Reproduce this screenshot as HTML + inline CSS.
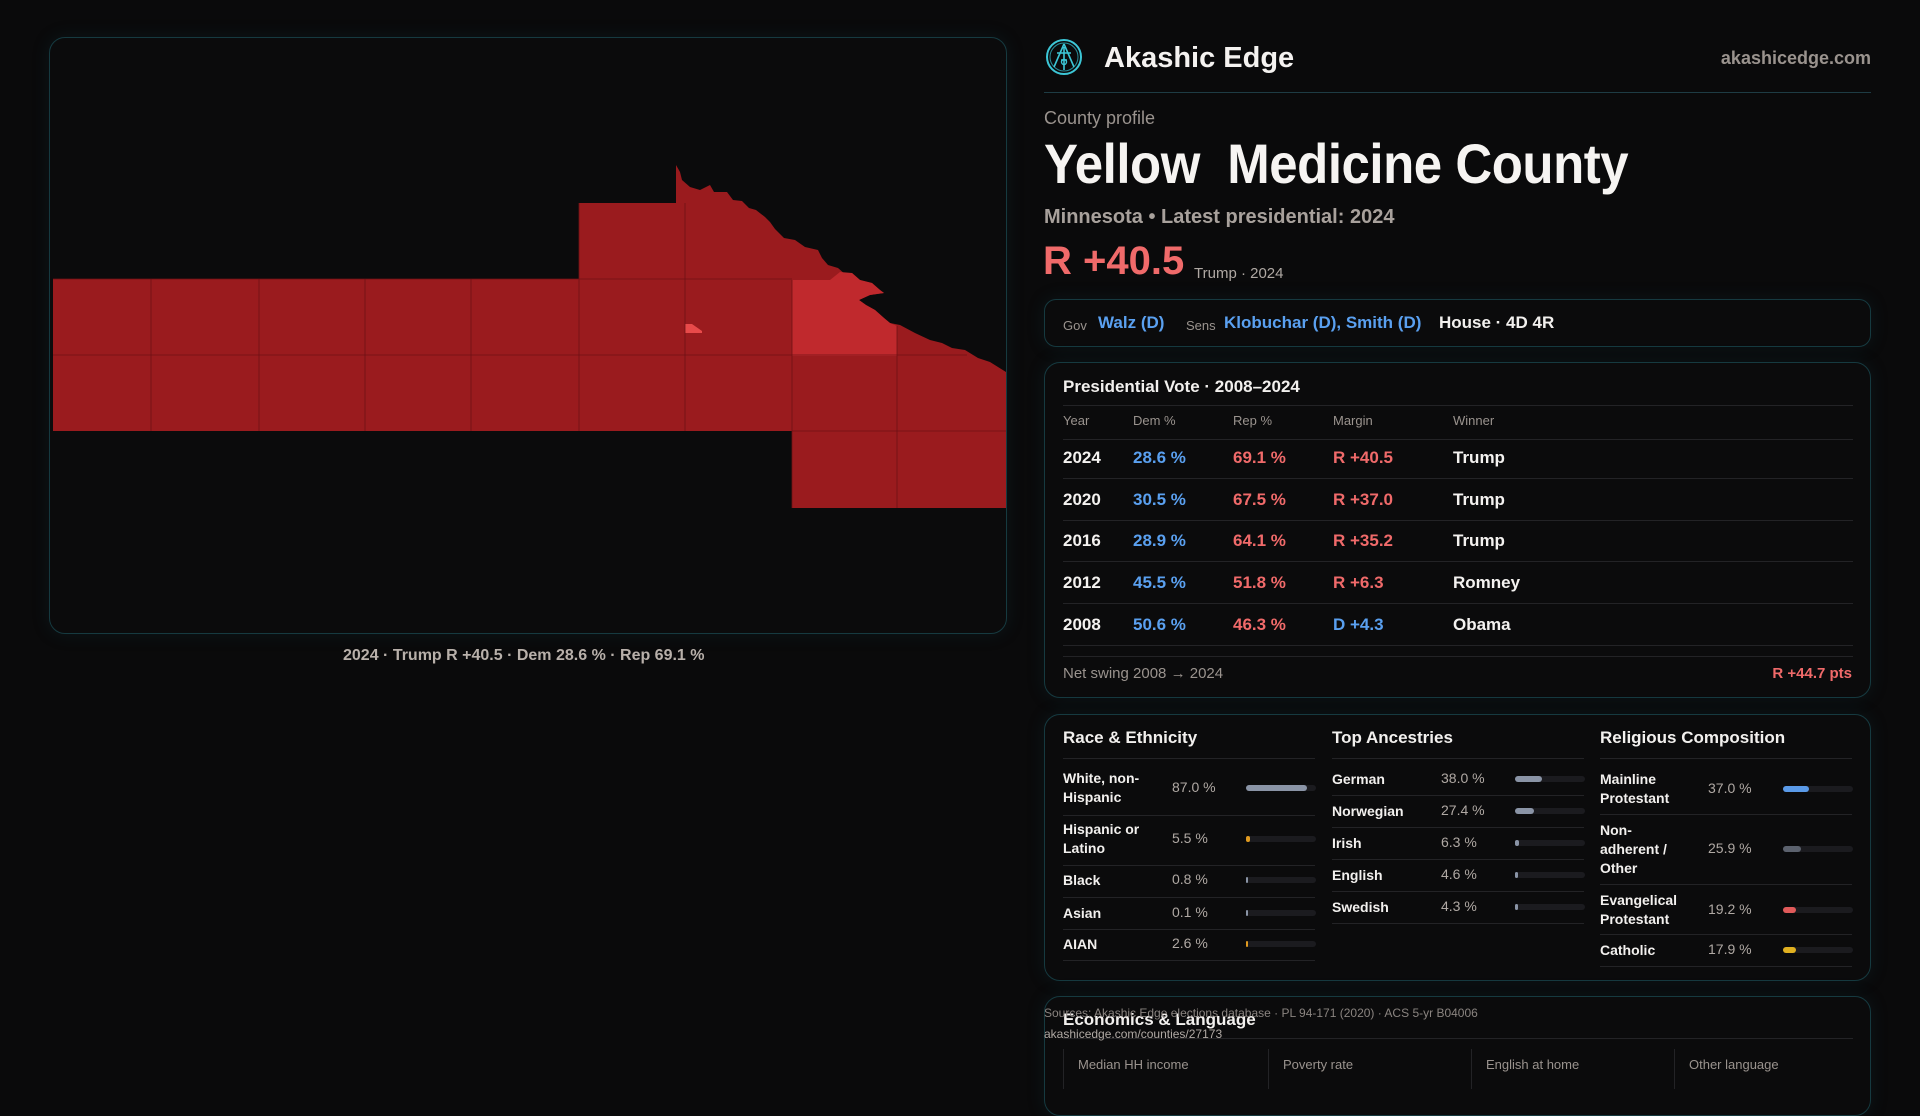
<!DOCTYPE html>
<html><head><meta charset="utf-8">
<style>
*{box-sizing:border-box;margin:0;padding:0}
html,body{width:1920px;height:1080px;overflow:hidden;background:#0a0a0b;font-family:"Liberation Sans",sans-serif;color:#f2f0ee}
.abs{position:absolute;white-space:nowrap}
.panel{position:absolute;border:1.5px solid #163a40;border-radius:16px;background:#0b0b0c;box-shadow:0 0 18px rgba(20,80,90,0.18)}
.gray{color:#9a938e}
.blue{color:#5aa0f0}
.red{color:#f06a6a}
.hl{position:absolute;height:1px;background:#232326}
</style></head>
<body>
<div class="panel" style="left:49px;top:37px;width:958px;height:597px;"></div>
<svg class="abs" style="left:0;top:0" width="1020" height="640" viewBox="0 0 1020 640">
  <g id="mapg"></g>
</svg>
<div class="abs" style="left:343px;top:647px;font-size:16px;font-weight:bold;color:#b8b0aa;">2024 · Trump R +40.5 · Dem 28.6 % · Rep 69.1 %</div>

<svg class="abs" style="left:1044px;top:37px" width="40" height="40" viewBox="0 0 40 40">
  <circle cx="20" cy="20" r="17" fill="none" stroke="#3cc6d6" stroke-width="2"/>
  <circle cx="20" cy="20" r="14" fill="none" stroke="#2a8e9a" stroke-width="1"/>
  <path d="M20 7 L10 30 M20 7 L30 30 M13 16 L27 16 M20 10 L20 33 M17 23 L23 23" stroke="#3cc6d6" stroke-width="1.6" fill="none"/>
  <circle cx="20" cy="25" r="2.5" fill="none" stroke="#3cc6d6" stroke-width="1.4"/>
</svg>
<div class="abs" style="left:1104px;top:42px;font-size:29px;font-weight:bold;color:#f4f2f0;">Akashic Edge</div>
<div class="abs" style="right:49px;top:48px;font-size:18px;font-weight:bold;color:#9a938e;">akashicedge.com</div>
<div class="abs" style="left:1044px;top:92px;width:827px;height:1px;background:#1e3c44;"></div>
<div class="abs gray" style="left:1044px;top:108px;font-size:18px;">County profile</div>
<div class="abs" style="left:1044px;top:131px;font-size:56px;font-weight:bold;color:#f6f4f2;transform:scaleX(0.91);transform-origin:left top;letter-spacing:-0.5px;">Yellow&nbsp; Medicine County</div>
<div class="abs" style="left:1044px;top:206px;font-size:20px;font-weight:bold;color:#a8a19c;">Minnesota • Latest presidential: 2024</div>
<div class="abs red" style="left:1043px;top:239px;font-size:40px;font-weight:bold;">R +40.5</div>
<div class="abs" style="left:1194px;top:265px;font-size:15px;color:#b0a9a4;">Trump · 2024</div>

<div class="panel" style="left:1044px;top:299px;width:827px;height:48px;border-radius:12px;"></div>
<div class="abs gray" style="left:1063px;top:318px;font-size:13px;">Gov</div>
<div class="abs blue" style="left:1098px;top:313px;font-size:17px;font-weight:bold;">Walz (D)</div>
<div class="abs gray" style="left:1186px;top:318px;font-size:13px;">Sens</div>
<div class="abs blue" style="left:1224px;top:313px;font-size:17px;font-weight:bold;">Klobuchar (D), Smith (D)</div>
<div class="abs" style="left:1439px;top:313px;font-size:17px;font-weight:bold;">House · 4D 4R</div>

<div class="panel" style="left:1044px;top:362px;width:827px;height:336px;"></div>
<div class="abs" style="left:1063px;top:377px;font-size:17px;font-weight:bold;">Presidential Vote · 2008–2024</div>
<div class="hl" style="left:1063px;top:405px;width:790px;"></div>
<div class="hl" style="left:1063px;top:656px;width:790px;"></div>
<div class="abs gray" style="left:1063px;top:665px;font-size:15px;">Net swing 2008 → 2024</div>
<div class="abs red" style="right:68px;top:665px;font-size:15px;font-weight:bold;">R +44.7 pts</div>

<div class="panel" style="left:1044px;top:714px;width:827px;height:267px;"></div>

<div class="panel" style="left:1044px;top:996px;width:827px;height:120px;"></div>
<div class="abs" style="left:1063px;top:1010px;font-size:17px;font-weight:bold;">Economics &amp; Language</div>
<div class="hl" style="left:1063px;top:1038px;width:790px;"></div>
<div class="abs" style="left:1044px;top:1006px;font-size:12px;color:#8a8480;">Sources: Akashic Edge elections database · PL 94-171 (2020) · ACS 5-yr B04006</div>
<div class="abs" style="left:1044px;top:1027px;font-size:12px;color:#b0a9a4;">akashicedge.com/counties/27173</div>

<script>
// Presidential table data
const years = ['2024','2020','2016','2012','2008'];
const demPct = [28.6, 30.5, 28.9, 45.5, 50.6];
const repPct = [69.1, 67.5, 64.1, 51.8, 46.3];
const winners = ['Trump','Trump','Trump','Romney','Obama'];
// Demographics data
const raceLabels = ['White, non-\nHispanic','Hispanic or\nLatino','Black','Asian','AIAN'];
const raceValues = [87.0, 5.5, 0.8, 0.1, 2.6];
const ancLabels = ['German','Norwegian','Irish','English','Swedish'];
const ancValues = [38.0, 27.4, 6.3, 4.6, 4.3];
const relLabels = ['Mainline\nProtestant','Non-\nadherent /\nOther','Evangelical\nProtestant','Catholic'];
const relValues = [37.0, 25.9, 19.2, 17.9];
const econLabels = ['Median HH income','Poverty rate','English at home','Other language'];

function mk(tag, parent, css, txt){
  const e=document.createElement(tag);
  e.style.cssText=css; if(txt!==undefined) e.textContent=txt;
  parent.appendChild(e); return e;
}
const body=document.body;

const heads=['Year','Dem %','Rep %','Margin','Winner'];
const colX=[1063,1133,1233,1333,1453];
heads.forEach((h,i)=>{
  const e=mk('div',body,`left:${colX[i]}px;top:413px;font-size:13px;`,h);
  e.className='abs gray';
  
  
});
let r0=mk('div',body,'left:1063px;top:439px;width:790px;'); r0.className='hl';


years.forEach((y,i)=>{
  const cy=458+i*41.7;
  const m=repPct[i]-demPct[i];
  const mtxt=(m>=0?'R +':'D +')+Math.abs(m).toFixed(1);
  const vals=[y,demPct[i].toFixed(1)+' %',repPct[i].toFixed(1)+' %',mtxt,winners[i]];
  const cols=['#f4f2f0','#5aa0f0','#f06a6a',m>=0?'#f06a6a':'#5aa0f0','#f4f2f0'];
  vals.forEach((v,j)=>{
    const e=mk('div',body,`left:${colX[j]}px;top:${cy-10}px;font-size:17px;font-weight:bold;color:${cols[j]};`,v);
    e.className='abs';
    
    
  });
  const l=mk('div',body,`left:1063px;top:${cy+20}px;width:790px;`); l.className='hl';
  
  
});

function column(title,x0,labels,values,rowsY,seps,colors,valX,barX){
  const t=mk('div',body,`left:${x0}px;top:728px;font-size:17px;font-weight:bold;`,title);
  t.className='abs';
  
  
  seps.forEach(s=>{const l=mk('div',body,`left:${x0}px;top:${s}px;width:252px;`);l.className='hl';
    
    });
  labels.forEach((lab,i)=>{
    const lines=lab.split('\n');
    const h=lines.length*19;
    const L=mk('div',body,`left:${x0}px;top:${rowsY[i]-h/2}px;font-size:14px;font-weight:bold;line-height:19px;white-space:pre;`,lab);
    L.className='abs';
    
    
    const V=mk('div',body,`left:${valX}px;top:${rowsY[i]-9}px;font-size:14px;color:#b0a9a4;`,values[i].toFixed(1)+' %');
    V.className='abs';
    
    
    const tr=mk('div',body,`left:${barX}px;top:${rowsY[i]-3}px;width:70px;height:6px;border-radius:3px;background:#1b1b1f;`);
    tr.className='abs';
    
    
    const w=Math.max(1.5,70*values[i]/100);
    const b=mk('div',tr,`position:absolute;left:0;top:0;width:${w}px;height:6px;border-radius:3px;background:${colors[i]};`);
    
    
  });
}
column('Race & Ethnicity',1063,raceLabels,raceValues,[788,839,880,913,944],[758,815,865,897,929,960],
  ['#8a94a6','#e09a20','#8a94a6','#8a94a6','#e09a20'],1172,1246);
column('Top Ancestries',1332,ancLabels,ancValues,[779,811,843,875,907],[758,795,827,859,891,923],
  ['#8a94a6','#8a94a6','#8a94a6','#8a94a6','#8a94a6'],1441,1515);
column('Religious Composition',1600,relLabels,relValues,[789,849,910,950],[758,814,884,934,966],
  ['#5a9ae8','#5c626e','#e05a5a','#e0b020'],1708,1783);

const ex=[1063,1268,1471,1674];
econLabels.forEach((l,i)=>{
  const d=mk('div',body,`left:${ex[i]}px;top:1049px;width:1px;height:40px;background:#232326;`);
  d.className='abs';
  
  
  const e=mk('div',body,`left:${ex[i]+15}px;top:1057px;font-size:13px;color:#9a938e;`,l);
  e.className='abs';
  
  
});

const g=document.getElementById('mapg');
const NS='http://www.w3.org/2000/svg';
function poly(pts,fill,name){
  const p=document.createElementNS(NS,'polygon');
  p.setAttribute('points',pts); p.setAttribute('fill',fill);
  
  
  g.appendChild(p); return p;
}
poly('53,279 579,279 579,203 676,203 676,165 680,172 682,180 690,187 700,190 710,185 714,192 727,192 733,200 742,201 749,208 756,210 765,217 770,222 775,229 784,238 795,240 805,247 818,250 822,258 828,265 838,268 846,275 852,273 860,280 872,283 880,290 884,293 870,295 859,300 866,305 875,310 884,318 890,323 900,325 915,333 930,340 942,343 952,348 965,350 978,358 990,362 1006,372 1006,508 792,508 792,431 53,431','#9a1b1e','county-precincts');
poly('792,280 830,280 840,272 852,273 860,280 872,283 880,290 884,293 870,295 859,300 866,305 875,310 884,318 890,323 897,326 897,356 792,356','#c0292d','precinct-highlight');
poly('685,324 692,324 702,331 702,333 685,333','#e84a4a','precinct-hot');
const vx=[151,259,365,471,579,685,792,897];
vx.forEach(x=>{
  const l=document.createElementNS(NS,'line');
  const top = x>=792? (x===897?326:280) : (x>=579?203:279);
  const bot = x>=792?508:431;
  l.setAttribute('x1',x);l.setAttribute('x2',x);l.setAttribute('y1',top);l.setAttribute('y2',bot);
  l.setAttribute('stroke','#6e1215');l.setAttribute('stroke-width','0.8');
  
  
  g.appendChild(l);
});
[[53,355,967],[53,279,792],[792,431,1006]].forEach(a=>{
  const l=document.createElementNS(NS,'line');
  l.setAttribute('x1',a[0]);l.setAttribute('x2',a[2]);l.setAttribute('y1',a[1]);l.setAttribute('y2',a[1]);
  l.setAttribute('stroke','#6e1215');l.setAttribute('stroke-width','0.8');
  
  
  g.appendChild(l);
});
</script>
</body></html>
